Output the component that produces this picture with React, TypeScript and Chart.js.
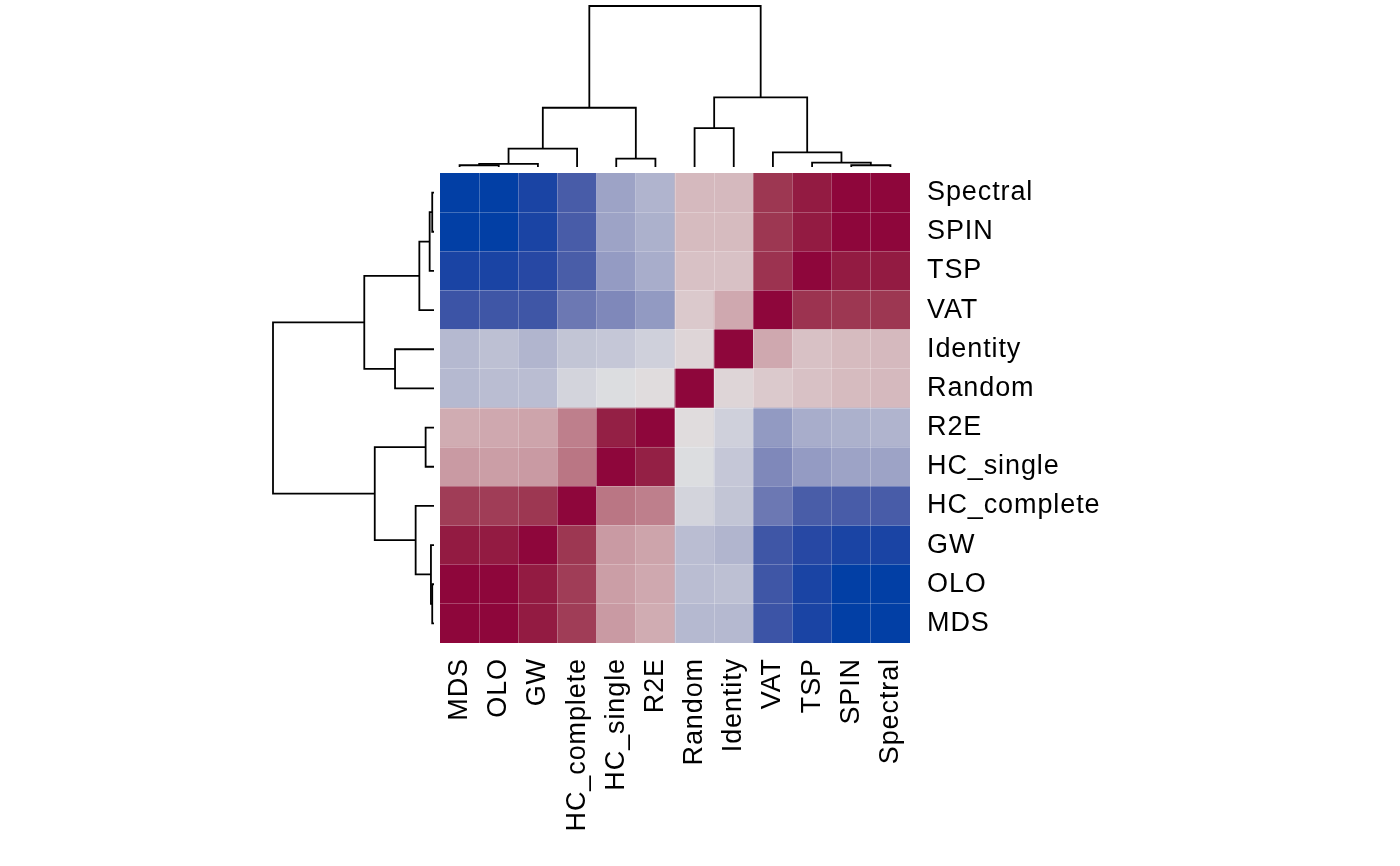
import React, { useEffect, useRef } from 'react';
import { Chart, registerables } from 'chart.js';

Chart.register(...registerables);

// ---------- data ----------
const colLabels = ['MDS', 'OLO', 'GW', 'HC_complete', 'HC_single', 'R2E', 'Random', 'Identity', 'VAT', 'TSP', 'SPIN', 'Spectral'];
// rows, top to bottom
const rowLabels = ['Spectral', 'SPIN', 'TSP', 'VAT', 'Identity', 'Random', 'R2E', 'HC_single', 'HC_complete', 'GW', 'OLO', 'MDS'];

// values per row (columns in colLabels order)
const rowSpectral = [-1.0, -1.0, -0.98, -0.875, -0.52, -0.42, 0.35, 0.35, 0.9, 0.97, 1.0, 1.0];
const rowSPIN = [-1.0, -1.0, -0.98, -0.875, -0.52, -0.44, 0.34, 0.34, 0.9, 0.97, 1.0, 1.0];
const rowTSP = [-0.98, -0.98, -0.96, -0.87, -0.56, -0.46, 0.3, 0.3, 0.91, 1.0, 0.97, 0.97];
const rowVAT = [-0.91, -0.9, -0.9, -0.74, -0.66, -0.57, 0.25, 0.44, 1.0, 0.91, 0.9, 0.9];
const rowIdentity = [-0.39, -0.34, -0.41, -0.31, -0.29, -0.22, 0.16, 1.0, 0.44, 0.3, 0.34, 0.35];
const rowRandom = [-0.39, -0.36, -0.36, -0.19, -0.1, 0.1, 1.0, 0.16, 0.25, 0.3, 0.34, 0.35];
const rowR2E = [0.42, 0.44, 0.46, 0.63, 0.96, 1.0, 0.1, -0.22, -0.57, -0.46, -0.44, -0.42];
const rowHCsingle = [0.51, 0.49, 0.51, 0.67, 1.0, 0.96, -0.1, -0.29, -0.66, -0.56, -0.52, -0.52];
const rowHCcomplete = [0.88, 0.88, 0.9, 1.0, 0.67, 0.63, -0.19, -0.31, -0.74, -0.87, -0.875, -0.875];
const rowGW = [0.97, 0.97, 1.0, 0.9, 0.51, 0.46, -0.36, -0.41, -0.9, -0.96, -0.98, -0.98];
const rowOLO = [1.0, 1.0, 0.97, 0.88, 0.49, 0.44, -0.36, -0.34, -0.9, -0.98, -1.0, -1.0];
const rowMDS = [1.0, 1.0, 0.97, 0.88, 0.51, 0.42, -0.39, -0.39, -0.91, -0.98, -1.0, -1.0];

const rowValues = [rowSpectral, rowSPIN, rowTSP, rowVAT, rowIdentity, rowRandom, rowR2E, rowHCsingle, rowHCcomplete, rowGW, rowOLO, rowMDS];

// dendrogram (hclust-style merges; negative = leaf in colLabels order, 1-based)
const mergeA = [-1, -11, 1, -10, -5, -9, 3, -7, 7, 8, 9];
const mergeB = [-2, -12, -3, 2, -6, 4, -4, -8, 5, 6, 10];
const mergeHeight = [0.011, 0.011, 0.019, 0.027, 0.052, 0.091, 0.114, 0.242, 0.368, 0.433, 1.0];

// ---------- helpers ----------
function hclToHex(L: number, C: number, H: number): string {
  const h = (H * Math.PI) / 180;
  const U = C * Math.cos(h);
  const V = C * Math.sin(h);
  const Xn = 95.047, Yn = 100, Zn = 108.883;
  const Y = L > 8 ? Yn * Math.pow((L + 16) / 116, 3) : (Yn * L) / 903.3;
  const den = Xn + 15 * Yn + 3 * Zn;
  const un = (4 * Xn) / den, vn = (9 * Yn) / den;
  const up = U / (13 * L) + un;
  const vp = V / (13 * L) + vn;
  const X = (9 * Y * up) / (4 * vp);
  const Z = (Y * (12 - 3 * up - 20 * vp)) / (4 * vp);
  const x = X / 100, y = Y / 100, z = Z / 100;
  const lin = [
    3.2404542 * x - 1.5371385 * y - 0.4985314 * z,
    -0.969266 * x + 1.8760108 * y + 0.041556 * z,
    0.0556434 * x - 0.2040259 * y + 1.0572252 * z,
  ];
  const g = lin.map((c) => {
    const cc = Math.max(0, Math.min(1, c));
    const v = cc <= 0.0031308 ? 12.92 * cc : 1.055 * Math.pow(cc, 1 / 2.4) - 0.055;
    return Math.round(v * 255);
  });
  return '#' + g.map((n) => n.toString(16).padStart(2, '0')).join('');
}

function valueToColor(v: number): string {
  const t = Math.min(1, Math.abs(v));
  const s = Math.pow(t, 1.5);
  const L = 90 - 60 * s;
  const C = 80 * s;
  const H = v < 0 ? 260 : 0;
  return hclToHex(L, C, H);
}

function dendroSegments(): number[][][] {
  const pos: number[] = [];
  const hgt: number[] = [];
  const segs: number[][][] = [];
  const get = (id: number) => (id < 0 ? { p: -id - 1 + 0.5, h: 0 } : { p: pos[id - 1], h: hgt[id - 1] });
  for (let i = 0; i < mergeA.length; i++) {
    const a = get(mergeA[i]);
    const b = get(mergeB[i]);
    const h = mergeHeight[i];
    pos[i] = (a.p + b.p) / 2;
    hgt[i] = h;
    segs.push([
      [a.p, a.h],
      [a.p, h],
      [b.p, h],
      [b.p, b.h],
    ]);
  }
  return segs;
}

const FONT = { family: '"Liberation Sans", Arial, Helvetica, sans-serif', size: 27 };
const GRID_COLOR = 'rgba(255,255,255,0.25)';
const SPACING = '0.9px';

const spacingPlugin = {
  id: 'letterSpacing',
  beforeUpdate(chart: any) {
    chart.ctx.letterSpacing = SPACING;
  },
  beforeDraw(chart: any) {
    chart.ctx.letterSpacing = SPACING;
  },
};

export default function App() {
  const heatRef = useRef<HTMLCanvasElement>(null);
  const topRef = useRef<HTMLCanvasElement>(null);
  const leftRef = useRef<HTMLCanvasElement>(null);

  useEffect(() => {
    const segs = dendroSegments();
    const rowsBottomUp = rowLabels.slice().reverse();

    const heatDatasets = rowsBottomUp.map((name, k) => {
      const vals = rowValues[rowLabels.length - 1 - k];
      return {
        label: name,
        data: vals.map(() => 1),
        backgroundColor: vals.map(valueToColor),
        borderWidth: 0,
        barPercentage: 1,
        categoryPercentage: 1,
      };
    });

    const heat = new Chart(heatRef.current as HTMLCanvasElement, {
      type: 'bar',
      data: { labels: colLabels, datasets: heatDatasets as any },
      plugins: [spacingPlugin],
      options: {
        animation: false,
        responsive: false,
        events: [],
        layout: { padding: { left: 440, top: 173, right: 0, bottom: 0 } },
        plugins: { legend: { display: false }, tooltip: { enabled: false } },
        scales: {
          x: {
            type: 'category',
            position: 'bottom',
            stacked: true,
            offset: true,
            grid: {
              offset: true,
              drawTicks: false,
              z: 1,
              lineWidth: 1,
              color: (ctx: any) => (ctx.type === 'tick' && ctx.index > 0 ? GRID_COLOR : 'rgba(0,0,0,0)'),
            },
            border: { display: false },
            ticks: { font: FONT, color: '#000', padding: 15, minRotation: 90, maxRotation: 90, autoSkip: false },
            afterFit: (s: any) => {
              s.height = 223;
            },
          },
          y: {
            type: 'linear',
            position: 'right',
            stacked: true,
            min: 0,
            max: 12,
            grid: { display: false },
            border: { display: false },
            afterBuildTicks: (s: any) => {
              s.ticks = rowsBottomUp.map((_, i) => ({ value: i + 0.5 }));
            },
            ticks: {
              font: FONT,
              color: '#000',
              padding: 9,
              autoSkip: false,
              callback: (_v: any, i: number) => rowsBottomUp[i],
            },
            afterFit: (s: any) => {
              s.width = 490;
            },
          },
          yGrid: {
            type: 'linear',
            position: 'left',
            min: 0,
            max: 12,
            ticks: { display: false, stepSize: 1 },
            border: { display: false },
            grid: {
              drawTicks: false,
              z: 1,
              lineWidth: 1,
              color: (ctx: any) => (ctx.index > 0 && ctx.index < 12 ? GRID_COLOR : 'rgba(0,0,0,0)'),
            },
            afterFit: (s: any) => {
              s.width = 0;
            },
          },
        },
      } as any,
    });

    const lineStyle = {
      borderColor: '#000',
      borderWidth: 1.8,
      pointRadius: 0,
      showLine: true,
      fill: false,
      tension: 0,
      clip: false,
    };

    const top = new Chart(topRef.current as HTMLCanvasElement, {
      type: 'scatter',
      data: {
        datasets: segs.map((s) => ({ ...lineStyle, data: s.map(([p, h]) => ({ x: p, y: h })) })) as any,
      },
      options: {
        animation: false,
        responsive: false,
        events: [],
        layout: { padding: { left: 0, right: 0, top: 6, bottom: 5 } },
        plugins: { legend: { display: false }, tooltip: { enabled: false } },
        scales: {
          x: { type: 'linear', min: 0, max: 12, display: false },
          y: { type: 'linear', min: 0, max: 1, display: false },
        },
      } as any,
    });

    const left = new Chart(leftRef.current as HTMLCanvasElement, {
      type: 'scatter',
      data: {
        datasets: segs.map((s) => ({ ...lineStyle, data: s.map(([p, h]) => ({ x: h, y: p })) })) as any,
      },
      options: {
        animation: false,
        responsive: false,
        events: [],
        layout: { padding: { left: 13, right: 6, top: 5, bottom: 5 } },
        plugins: { legend: { display: false }, tooltip: { enabled: false } },
        scales: {
          x: { type: 'linear', min: 0, max: 1, reverse: true, display: false },
          y: { type: 'linear', min: 0, max: 12, display: false },
        },
      } as any,
    });

    return () => {
      heat.destroy();
      top.destroy();
      left.destroy();
    };
  }, []);

  return (
    <div style={{ position: 'fixed', left: 0, top: 0, width: 1400, height: 866, background: '#fff', overflow: 'hidden' }}>
      <canvas ref={heatRef} width={1400} height={866} style={{ position: 'absolute', left: 0, top: 0, width: 1400, height: 866 }} />
      <canvas ref={topRef} width={470} height={172} style={{ position: 'absolute', left: 440, top: 0, width: 470, height: 172 }} />
      <canvas ref={leftRef} width={180} height={480} style={{ position: 'absolute', left: 260, top: 168, width: 180, height: 480 }} />
    </div>
  );
}
